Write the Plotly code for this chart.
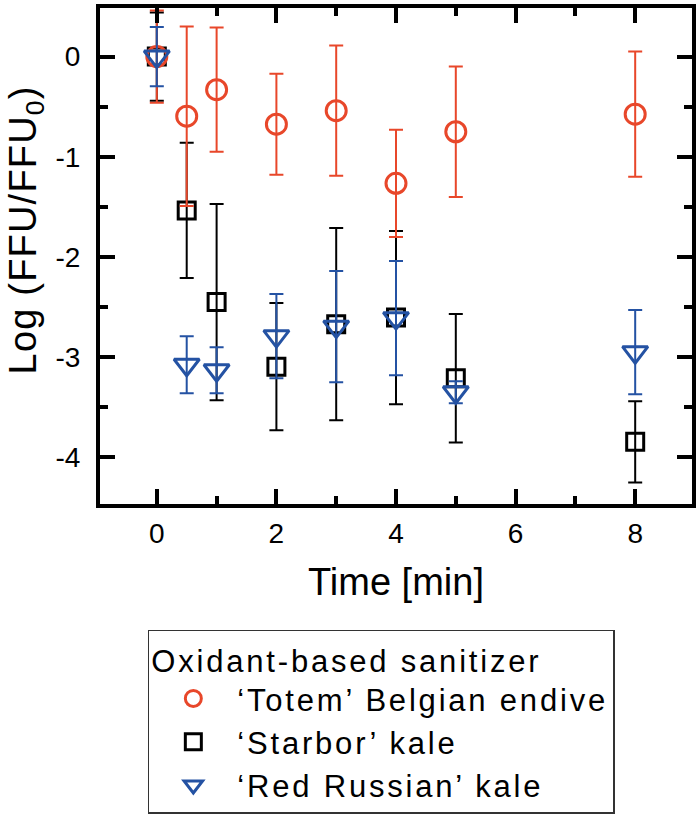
import plotly.graph_objects as go

# ---- data ----
time_min = [0, 0.5, 1, 2, 3, 4, 5, 8]

totem_y = [0.0, -0.595, -0.33, -0.675, -0.54, -1.265, -0.75, -0.575]
totem_err = [0.46, 0.895, 0.62, 0.505, 0.65, 0.535, 0.65, 0.625]

starbor_y = [0.0, -1.535, -2.45, -3.095, -2.67, -2.605, -3.21, -3.845]
starbor_err = [0.44, 0.675, 0.98, 0.635, 0.96, 0.865, 0.64, 0.405]

russian_y = [0.0, -3.075, -3.13, -2.79, -2.695, -2.61, -3.35, -2.95]
russian_err = [0.295, 0.285, 0.23, 0.42, 0.555, 0.57, 0.11, 0.42]

series_names = ["\u2018Totem\u2019 Belgian endive", "\u2018Starbor\u2019 kale", "\u2018Red Russian\u2019 kale"]
legend_title = "Oxidant-based sanitizer"
x_ticks = [0, 2, 4, 6, 8]
x_tick_labels = ["0", "2", "4", "6", "8"]
y_ticks = [0, -1, -2, -3, -4]
y_tick_labels = ["0", "-1", "-2", "-3", "-4"]

RED = "#E8472A"
BLACK = "#000000"
BLUE = "#2452A3"
FONT = "Liberation Sans, Arial, sans-serif"
SP = '<span style="letter-spacing:2.8px">{}</span>'

# plot-area geometry (pixels)
L, R, T, B = 100, 6, 4, 316
W, H = 700, 820
PW, PH = W - L - R, H - T - B

fig = go.Figure()

# drawn order: black, red, blue ; legend order: red, black, blue
specs = [
    (series_names[1], starbor_y, starbor_err, BLACK, "square-open", 17, 2),
    (series_names[0], totem_y, totem_err, RED, "circle-open", 20, 1),
    (series_names[2], russian_y, russian_err, BLUE, "triangle-down-open", 22, 3),
]
for name, ys, errs, col, sym, size, rank in specs:
    fig.add_trace(go.Scatter(
        x=time_min, y=ys, name=SP.format(name), mode="markers", legendrank=rank,
        marker=dict(symbol=sym, size=size, color=col, line=dict(width=3, color=col)),
        error_y=dict(type="data", array=errs, visible=True, color=col, thickness=2, width=7),
    ))

axis_common = dict(
    showline=True, linewidth=4, linecolor="black", mirror="ticks",
    ticks="inside", ticklen=15, tickwidth=4, tickcolor="black",
    showgrid=False, zeroline=False,
    tickfont=dict(family=FONT, size=28, color="black"),
)

fig.update_xaxes(
    range=[-0.95, 8.95], tickmode="array", tickvals=x_ticks, ticktext=x_tick_labels,
    ticklabelstandoff=1,
    minor=dict(ticks="inside", dtick=1, tick0=0, ticklen=8, tickwidth=4, tickcolor="black", showgrid=False),
    title=dict(text="Time [min]", font=dict(family=FONT, size=38, color="black"), standoff=22),
    **axis_common,
)
fig.update_yaxes(
    range=[-4.465, 0.485], tickmode="array", tickvals=y_ticks, ticktext=y_tick_labels,
    ticklabelstandoff=10,
    minor=dict(ticks="inside", dtick=0.5, tick0=0, ticklen=8, tickwidth=4, tickcolor="black", showgrid=False),
    **axis_common,
)

fig.add_annotation(
    text='<span style="letter-spacing:1.2px">Log (FFU/FFU<sub>0</sub>)</span>', textangle=-90,
    xref="paper", yref="paper", x=(26 - L) / PW, y=(H - B - 228) / PH,
    xanchor="center", yanchor="middle", showarrow=False,
    font=dict(family=FONT, size=38, color="black"),
)

fig.update_layout(
    width=W, height=H, autosize=False,
    margin=dict(l=L, r=R, t=T, b=B, pad=0),
    paper_bgcolor="white", plot_bgcolor="white",
    showlegend=True,
    legend=dict(
        x=(148 - L) / PW, y=(H - B - 631) / PH, xanchor="left", yanchor="top",
        bgcolor="white", bordercolor="#333333", borderwidth=1.5,
        font=dict(family=FONT, size=31, color="black"),
        title=dict(text=SP.format(legend_title), font=dict(family=FONT, size=31, color="black")),
        traceorder="normal", itemwidth=78,
    ),
)

fig.write_html("out.html", config={"displayModeBar": False},
               post_script="document.body.style.margin='0';")
